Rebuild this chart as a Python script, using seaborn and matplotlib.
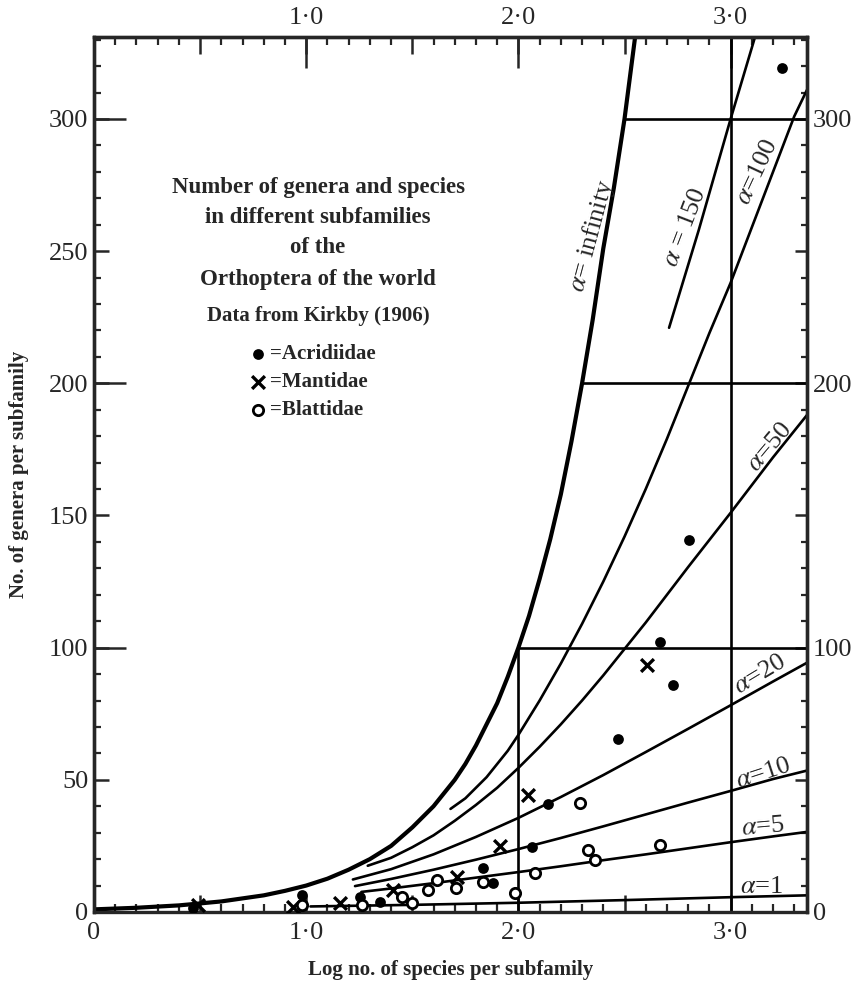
import matplotlib
matplotlib.use("Agg")
import pandas as pd
import matplotlib.pyplot as plt
import seaborn as sns
from matplotlib.ticker import MultipleLocator, FuncFormatter

# ---- curves (log species, genera) ----
inf_x = [0.0, 0.2, 0.4, 0.6, 0.8, 0.9, 1.0, 1.1, 1.2, 1.3, 1.4, 1.5, 1.6, 1.65, 1.7, 1.75, 1.8, 1.85,
         1.9, 1.95, 2.0, 2.05, 2.1, 2.15, 2.2, 2.25, 2.3, 2.35, 2.4, 2.45, 2.5, 2.55]
inf_y = [1, 1.6, 2.5, 4, 6.3, 8, 10, 12.6, 16, 20, 25, 32, 40, 45, 50, 56, 63, 71,
         79, 89, 100, 112, 126, 141, 158, 178, 200, 224, 251, 274, 300, 331]

a150_x = [2.71, 2.85, 3.0, 3.115]
a150_y = [221, 258, 300, 331]

a100_x = [1.68, 1.75, 1.8, 1.85, 1.9, 1.95, 2.0, 2.1, 2.2, 2.3, 2.4, 2.5, 2.6, 2.7, 2.8, 2.9,
          3.0, 3.1, 3.2, 3.3, 3.36]
a100_y = [39, 43, 47, 51, 56, 61, 67, 80, 94, 109, 125, 142, 160, 179, 199, 219,
          238, 259, 280, 301, 311]

a50_x = [1.29, 1.4, 1.5, 1.6, 1.7, 1.8, 1.9, 2.0, 2.1, 2.2, 2.3, 2.4, 2.6, 2.8, 3.0, 3.2, 3.36]
a50_y = [17.5, 20.5, 24.5, 29, 34.5, 40.5, 47, 54.5, 62.5, 71, 80, 89.5, 109.5, 130.5, 151, 172, 188]

a20_x = [1.22, 1.4, 1.6, 1.8, 2.0, 2.2, 2.4, 2.6, 2.8, 3.0, 3.2, 3.36]
a20_y = [12.3, 16.2, 21.8, 28.4, 35.6, 43.5, 51.8, 60.5, 69.3, 78.2, 87.2, 94.3]

a10_x = [1.23, 1.4, 1.6, 1.8, 2.0, 2.2, 2.4, 2.6, 2.8, 3.0, 3.2, 3.36]
a10_y = [9.8, 12.5, 16, 19.8, 23.8, 28, 32.4, 36.9, 41.4, 45.8, 50.3, 53.5]

a5_x = [1.26, 1.4, 1.6, 1.8, 2.0, 2.2, 2.4, 2.6, 2.8, 3.0, 3.2, 3.36]
a5_y = [7.6, 8.9, 10.9, 13, 15.1, 17.3, 19.6, 21.8, 24.1, 26.4, 28.6, 30.3]

a1_x = [1.02, 1.5, 2.0, 2.5, 3.0, 3.36]
a1_y = [2.1, 2.7, 3.5, 4.5, 5.6, 6.3]

# guide lines
hline_y = [100, 200, 300]
hline_from = [2.0, 2.3, 2.5]
vline_x = [2.0, 3.0]
vline_to = [100, 331]

# ---- observed subfamilies ----
acrid_x = [0.467, 0.98, 1.254, 1.348, 1.833, 1.88, 2.064, 2.14, 2.469, 2.667, 2.729, 2.806, 3.241]
acrid_y = [1.5, 6.4, 5.7, 3.8, 16.7, 11.0, 24.6, 40.9, 65.5, 102.3, 85.7, 140.6, 319.2]

mant_x = [0.49, 0.938, 1.159, 1.409, 1.711, 1.913, 2.045, 2.606]
mant_y = [2.5, 1.9, 3.4, 8.3, 13.3, 25.0, 44.3, 93.6]

blatt_x = [0.98, 1.263, 1.451, 1.499, 1.574, 1.616, 1.706, 1.833, 1.984, 2.078, 2.29, 2.328, 2.361, 2.667]
blatt_y = [2.6, 2.6, 5.7, 3.4, 8.3, 12.1, 9.1, 11.4, 7.2, 14.8, 41.3, 23.5, 19.7, 25.4]

x_max, y_max = 3.36, 331

# ---- style ----
sns.set_style("ticks")
plt.rcParams["font.family"] = ["Liberation Serif", "DejaVu Serif"]
plt.rcParams["mathtext.fontset"] = "stix"

fig = plt.figure(figsize=(8.57, 9.9), dpi=100)
ax = fig.add_axes([94 / 857, 1 - 912 / 990, (807 - 94) / 857, (912 - 37) / 990])

# alpha curves
curves = {"150": (a150_x, a150_y), "100": (a100_x, a100_y), "50": (a50_x, a50_y),
          "20": (a20_x, a20_y), "10": (a10_x, a10_y), "5": (a5_x, a5_y), "1": (a1_x, a1_y)}
rows = []
for name, (xs, ys) in curves.items():
    rows += [(name, x, y) for x, y in zip(xs, ys)]
curve_df = pd.DataFrame(rows, columns=["alpha", "logN", "S"])

sns.lineplot(data=curve_df, x="logN", y="S", units="alpha", estimator=None, sort=False,
             color="black", lw=1.9, ax=ax)
sns.lineplot(x=inf_x, y=inf_y, estimator=None, sort=False, color="black", lw=3.0, ax=ax)

ax.hlines(hline_y, hline_from, x_max, color="black", lw=1.9)
ax.vlines(vline_x, 0, vline_to, color="black", lw=1.9)

# points
sns.scatterplot(x=acrid_x, y=acrid_y, marker="o", s=60, color="black", linewidth=0,
                ax=ax, label="=Acridiidae", zorder=5)
sns.scatterplot(x=mant_x, y=mant_y, marker="x", s=85, color="black", linewidth=2.4,
                ax=ax, label="=Mantidae", zorder=5)
sns.scatterplot(x=blatt_x, y=blatt_y, marker="o", s=55, color="white", edgecolor="black",
                linewidth=2.0, ax=ax, label="=Blattidae", zorder=5)

ax.legend(loc="upper left", bbox_to_anchor=(0.212, 0.649), frameon=False,
          prop=dict(weight="bold", size=15), handletextpad=0.0, handlelength=1.2,
          labelspacing=0.39, borderpad=0, borderaxespad=0)

# title block
title_lines = ["Number of genera and species", "in different subfamilies", "of the",
               "Orthoptera of the world"]
title_y = [274.2, 262.9, 251.5, 239.4]
for txt, yy in zip(title_lines, title_y):
    ax.text(1.056, yy, txt, ha="center", va="center", weight="bold", size=16.5)
ax.text(1.056, 225.4, "Data from Kirkby (1906)", ha="center", va="center", weight="bold", size=15)

# curve labels
labels = [(r"$\alpha$= infinity", 2.347, 256, 75),
          (r"$\alpha$ = 150", 2.785, 259, 69),
          (r"$\alpha$=100", 3.129, 280, 65),
          (r"$\alpha$=50", 3.186, 176, 50),
          (r"$\alpha$=20", 3.139, 89.8, 31),
          (r"$\alpha$=10", 3.153, 52.3, 18),
          (r"$\alpha$=5", 3.153, 32.2, 5),
          (r"$\alpha$=1", 3.148, 9.5, 0)]
for txt, lx, ly, rot in labels:
    ax.text(lx, ly, txt, ha="center", va="center", rotation=rot, rotation_mode="anchor", size=19)

# axes and ticks
ax.set_xlim(0, x_max)
ax.set_ylim(0, y_max)

bottom_labels = {0: "0", 1: "1·0", 2: "2·0", 3: "3·0"}
def fmt_x(v, pos):
    if abs(v - round(v)) < 1e-6:
        return bottom_labels.get(int(round(v)), "")
    return ""

ax.xaxis.set_major_locator(MultipleLocator(0.5))
ax.xaxis.set_minor_locator(MultipleLocator(0.1))
ax.xaxis.set_major_formatter(FuncFormatter(fmt_x))
ax.tick_params(axis="x", which="major", direction="in", length=12, width=1.8, top=True,
               labelsize=19, pad=7)
ax.tick_params(axis="x", which="minor", direction="in", length=5.5, width=1.6, top=True)

ax.yaxis.set_major_locator(MultipleLocator(50))
ax.yaxis.set_minor_locator(MultipleLocator(10))
ax.tick_params(axis="y", which="major", direction="in", length=11, width=1.8, labelsize=19, pad=4)
ax.tick_params(axis="y", which="minor", direction="in", length=5, width=1.6)

secx = ax.secondary_xaxis("top")
secx.set_xticks([1, 2, 3], labels=["1·0", "2·0", "3·0"])
secx.tick_params(direction="in", length=22, width=1.8, labelsize=19, pad=6)
secx.spines["top"].set_linewidth(2.4)

secl = ax.secondary_yaxis("left")
secl.set_yticks([100, 200, 300], labels=["", "", ""])
secl.tick_params(direction="in", length=23, width=1.8)
secl.spines["left"].set_linewidth(2.4)

right_labels = {0: "0", 100: "100", 200: "200", 300: "300"}
secr = ax.secondary_yaxis("right")
secr.yaxis.set_major_locator(MultipleLocator(50))
secr.yaxis.set_minor_locator(MultipleLocator(10))
secr.yaxis.set_major_formatter(FuncFormatter(lambda v, p: right_labels.get(int(round(v)), "")))
secr.tick_params(which="major", direction="in", length=9, width=1.8, labelsize=19, pad=4)
secr.tick_params(which="minor", direction="in", length=4.5, width=1.6)
secr.spines["right"].set_linewidth(2.4)

for sp in ax.spines.values():
    sp.set_linewidth(2.4)

ax.set_xlabel("Log no. of species per subfamily", weight="bold", size=15, labelpad=12)
ax.set_ylabel("No. of genera per subfamily", weight="bold", size=15, labelpad=14)

fig.savefig("out.png", dpi=100, facecolor="white")
